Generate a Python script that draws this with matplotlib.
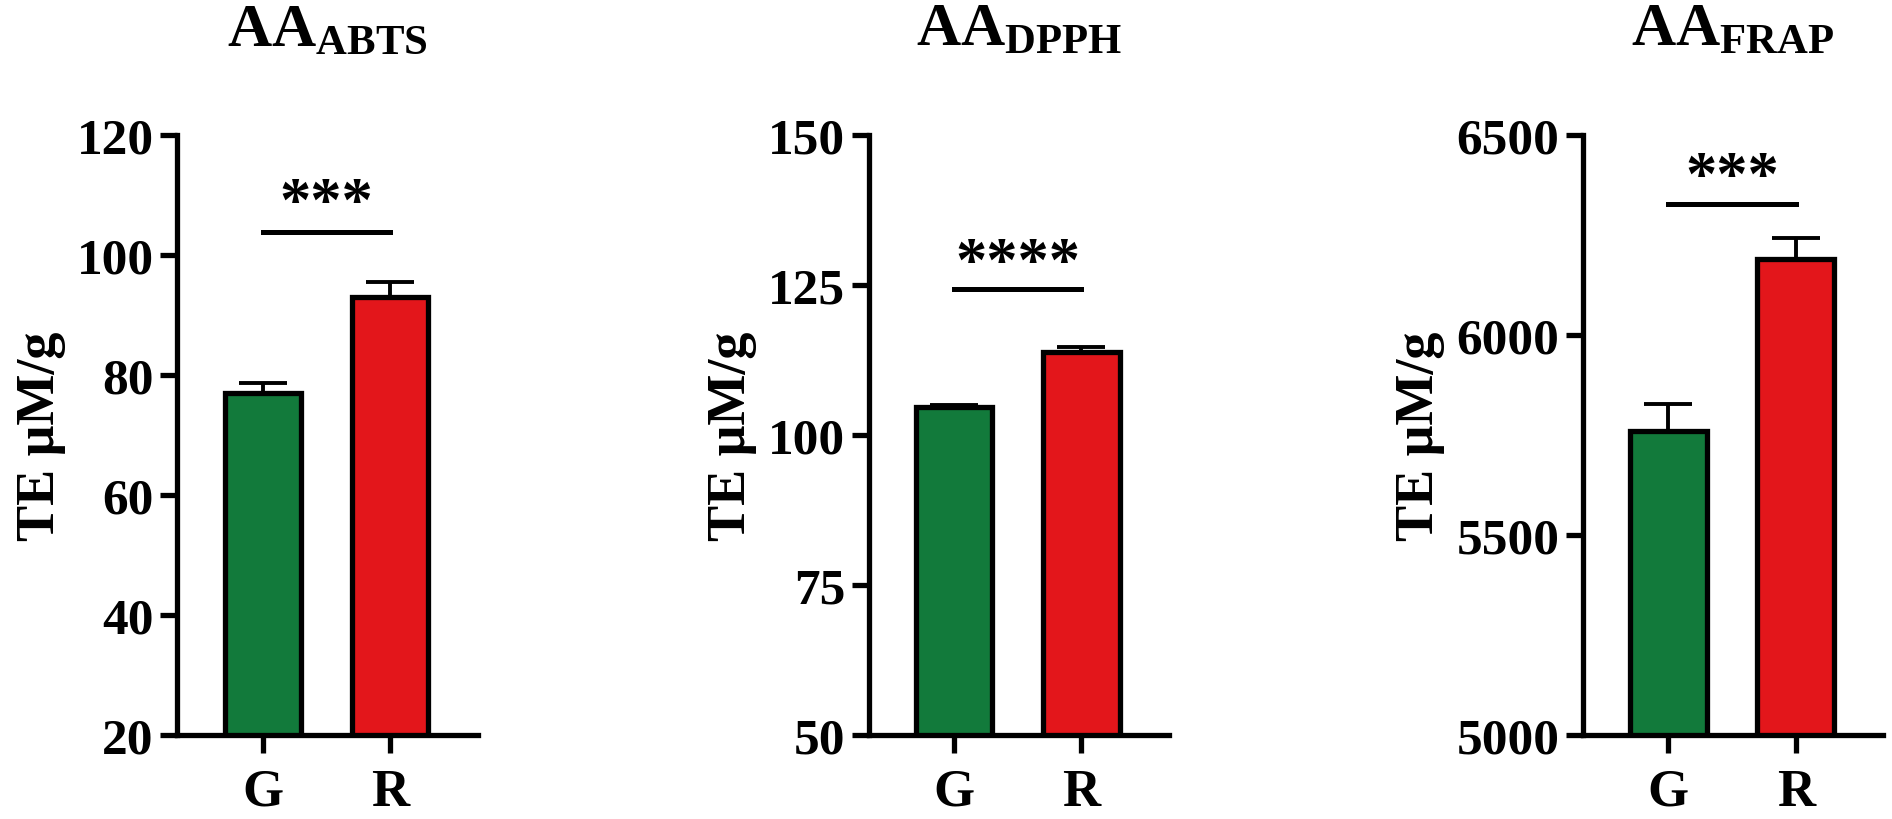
import matplotlib
matplotlib.use("Agg")
import matplotlib.pyplot as plt
import numpy as np

plt.rcParams['font.family'] = ['Liberation Serif', 'DejaVu Serif']
plt.rcParams['font.weight'] = 'bold'
plt.rcParams['mathtext.fontset'] = 'custom'
plt.rcParams['mathtext.rm'] = 'Liberation Serif:bold'
plt.rcParams['mathtext.bf'] = 'Liberation Serif:bold'
plt.rcParams['mathtext.it'] = 'Liberation Serif:bold'

categories = ["G", "R"]
titles = [r"$\mathrm{AA_{ABTS}}$", r"$\mathrm{AA_{DPPH}}$", r"$\mathrm{AA_{FRAP}}$"]
ylabel = "TE μM/g"

abts_mean = [77.0, 93.1]
abts_err = [1.6, 2.4]
dpph_mean = [104.7, 113.9]
dpph_err = [0.3, 0.8]
frap_mean = [5760, 6190]
frap_err = [67, 53]

ylims = [(20, 120), (50, 150), (5000, 6500)]
yticks = [[20, 40, 60, 80, 100, 120], [50, 75, 100, 125, 150], [5000, 5500, 6000, 6500]]
sig_labels = ["***", "****", "***"]
sig_line_y = [103.8, 124.4, 6328]
sig_text_y = [108.3, 128.4, 6390]

means = [abts_mean, dpph_mean, frap_mean]
errs = [abts_err, dpph_err, frap_err]
colors = ["#127A3B", "#E3161B"]

fig = plt.figure(figsize=(18.92, 8.2), dpi=100)
lefts = [0.0938, 0.4592, 0.8367]
w = 0.1588
b = 0.1029
h = 0.8338 - 0.1029

lw = 3.8
for i in range(3):
    ax = fig.add_axes([lefts[i], b, w, h])
    x = np.arange(len(categories))
    ax.errorbar(x, means[i], yerr=[np.zeros(2), errs[i]], fmt='none', ecolor='black',
                elinewidth=2.8, capsize=17, capthick=2.8, zorder=1)
    ax.bar(x, means[i], width=0.6, color=colors, edgecolor='black', linewidth=lw, zorder=2)
    ax.set_xlim(-0.67, 1.69)
    ax.set_ylim(*ylims[i])
    ax.set_yticks(yticks[i])
    ax.set_xticks(x)
    ax.set_xticklabels(categories)
    for s in ['top', 'right']:
        ax.spines[s].set_visible(False)
    for s in ['left', 'bottom']:
        ax.spines[s].set_linewidth(lw)
    ax.tick_params(axis='y', length=12, width=lw, labelsize=37, pad=5)
    ax.tick_params(axis='x', length=13, width=lw, labelsize=38, pad=11)
    ax.set_ylabel(ylabel, fontsize=39, fontweight='bold', labelpad=8)
    ax.plot([0, 1], [sig_line_y[i]] * 2, color='black', lw=3.6, clip_on=False)
    ax.text(0.5, sig_text_y[i], sig_labels[i], ha='center', va='center', fontsize=45,
            fontweight='bold')
    ax.text(0.5, 1.151, titles[i], transform=ax.transAxes, ha='center', va='baseline',
            fontsize=44)

fig.savefig("out.png", dpi=100)
